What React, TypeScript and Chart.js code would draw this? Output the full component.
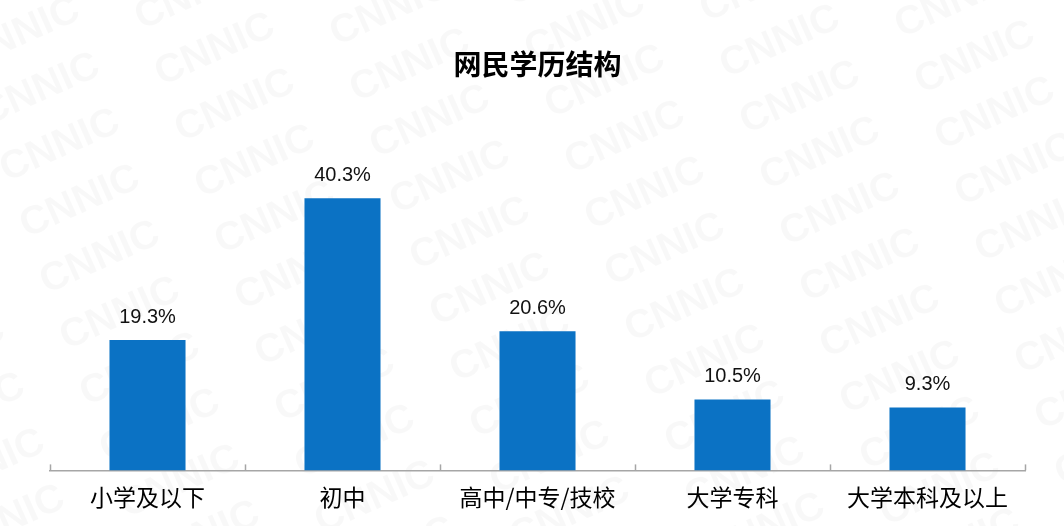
import React, { useEffect, useRef } from "react";
import { Chart, registerables } from "chart.js";

Chart.register(...registerables);

const categories = ["小学及以下", "初中", "高中/中专/技校", "大学专科", "大学本科及以上"];
const values = [19.3, 40.3, 20.6, 10.5, 9.3];
const titleText = "网民学历结构";
const watermark = "CNNIC";

const BAR_COLOR = "#0B72C4";
const AXIS_COLOR = "#A6A6A6";

const watermarkPlugin = {
  id: "watermark",
  beforeDraw(chart: any) {
    const { ctx, width, height } = chart;
    ctx.save();
    ctx.fillStyle = "#ffffff";
    ctx.fillRect(0, 0, width, height);
    ctx.fillStyle = "rgba(0,0,0,0.028)";
    ctx.font = "bold 40px 'Liberation Sans', Arial, sans-serif";
    ctx.textAlign = "center";
    ctx.textBaseline = "middle";
    for (let r = -2; r < 12; r++) {
      for (let c = -2; c < 10; c++) {
        const x = c * 175 + r * 20 + 40;
        const y = r * 56 + c * -40 + 90;
        if (y < -40 || y > height + 40) continue;
        ctx.save();
        ctx.translate(x, y);
        ctx.rotate(-0.42);
        ctx.fillText(watermark, 0, 0);
        ctx.restore();
      }
    }
    ctx.restore();
  },
};

const ticksPlugin = {
  id: "axisTicks",
  afterDraw(chart: any) {
    const { ctx, chartArea } = chart;
    const n = categories.length;
    const w = (chartArea.right - chartArea.left) / n;
    ctx.save();
    ctx.strokeStyle = AXIS_COLOR;
    ctx.lineWidth = 1.5;
    for (let i = 0; i <= n; i++) {
      const x = Math.round(chartArea.left + i * w) + 0.5;
      ctx.beginPath();
      ctx.moveTo(x, chartArea.bottom);
      ctx.lineTo(x, chartArea.bottom - 6);
      ctx.stroke();
    }
    ctx.restore();
  },
};

const dataLabelPlugin = {
  id: "dataLabels",
  afterDatasetsDraw(chart: any) {
    const { ctx } = chart;
    const meta = chart.getDatasetMeta(0);
    ctx.save();
    ctx.fillStyle = "#111111";
    ctx.font = "20px 'Liberation Sans', Arial, sans-serif";
    ctx.textAlign = "center";
    ctx.textBaseline = "middle";
    meta.data.forEach((bar: any, i: number) => {
      ctx.fillText(values[i].toFixed(1) + "%", bar.x, bar.y - 23);
    });
    ctx.restore();
  },
};

export default function App() {
  const ref = useRef<HTMLCanvasElement | null>(null);
  useEffect(() => {
    if (!ref.current) return;
    const chart = new Chart(ref.current, {
      type: "bar",
      data: {
        labels: categories,
        datasets: [
          {
            data: values,
            backgroundColor: BAR_COLOR,
            categoryPercentage: 1,
            barPercentage: 0.39,
          },
        ],
      },
      options: {
        animation: false,
        responsive: false,
        maintainAspectRatio: false,
        layout: { padding: { top: 48, left: 50, right: 39, bottom: 10 } },
        plugins: {
          legend: { display: false },
          tooltip: { enabled: false },
          title: {
            display: true,
            text: titleText,
            color: "#000000",
            font: { size: 28, weight: "bold", family: "'Noto Sans CJK SC', sans-serif", lineHeight: 1.2 },
            padding: { top: 0, bottom: 51 },
          },
        },
        scales: {
          x: {
            grid: { display: false },
            border: { display: true, color: AXIS_COLOR, width: 1.5 },
            ticks: {
              color: "#000000",
              padding: 5,
              font: { size: 23, family: "'Noto Sans CJK SC', sans-serif", lineHeight: 1.2 },
              maxRotation: 0,
              autoSkip: false,
            },
          },
          y: {
            display: false,
            min: 0,
            max: 50,
          },
        },
      },
      plugins: [watermarkPlugin, ticksPlugin, dataLabelPlugin],
    });
    return () => chart.destroy();
  }, []);
  return (
    <div style={{ position: "fixed", left: 0, top: 0, width: 1064, height: 526, background: "#fff" }}>
      <canvas ref={ref} width={1064} height={526} style={{ width: 1064, height: 526, display: "block" }} />
    </div>
  );
}
